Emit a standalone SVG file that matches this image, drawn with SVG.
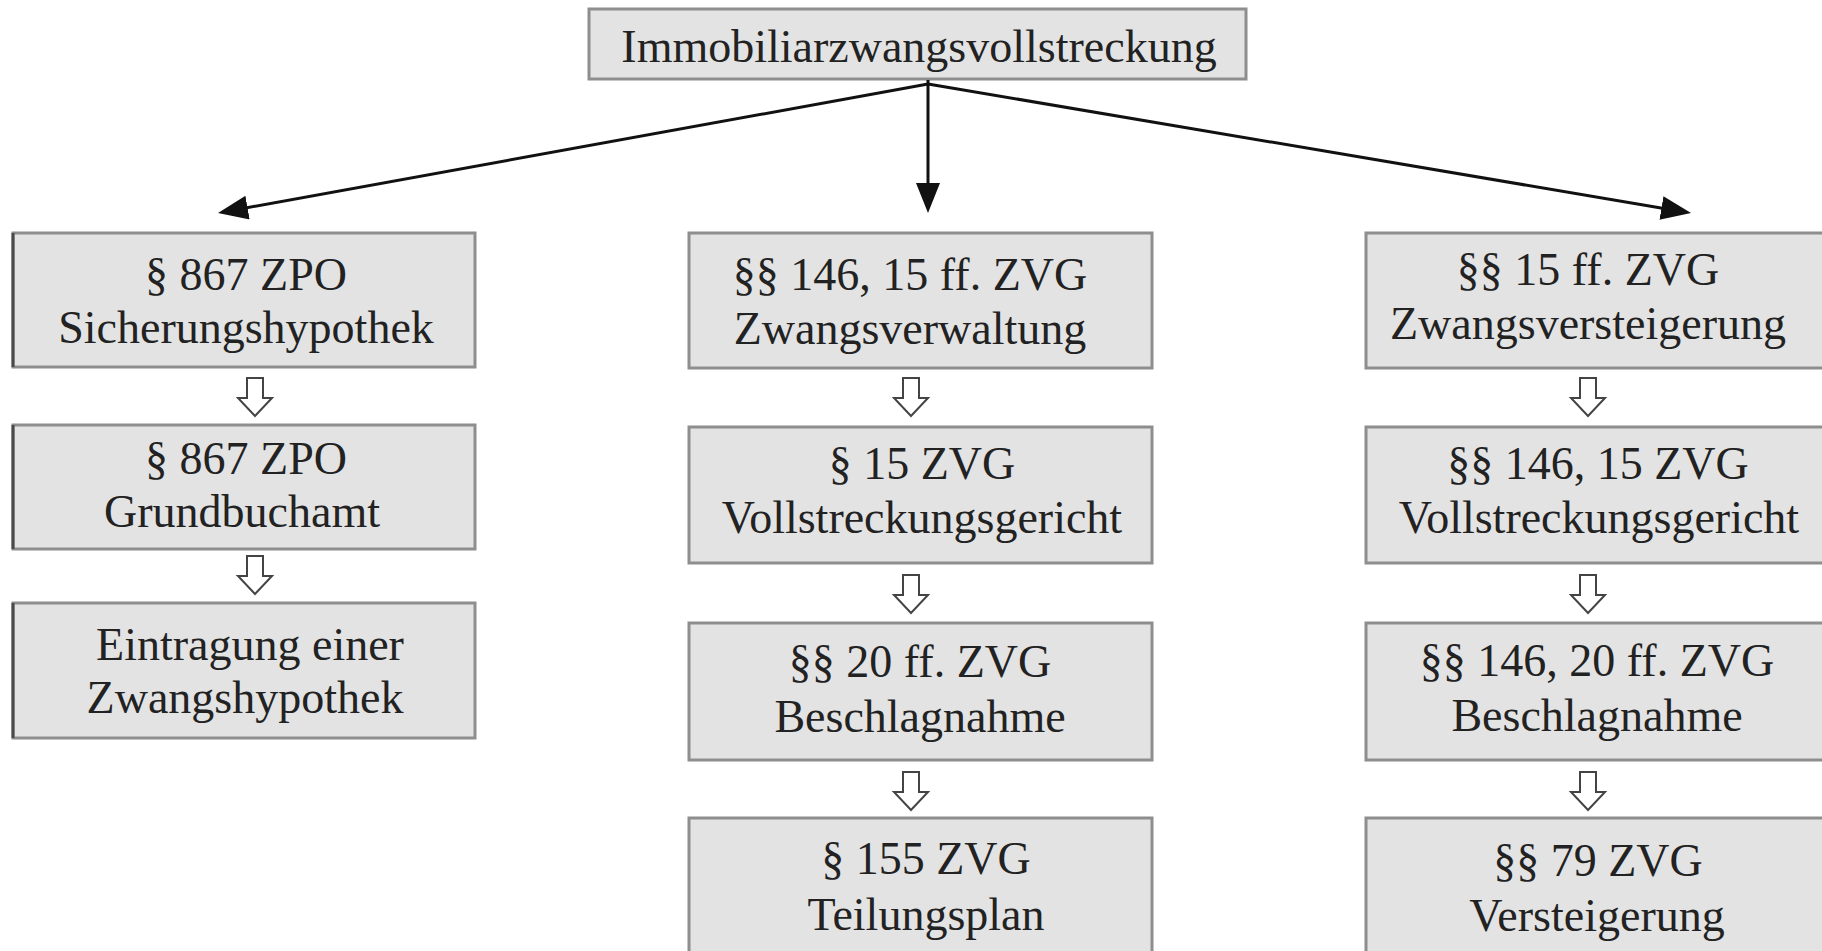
<svg xmlns="http://www.w3.org/2000/svg" xmlns:xlink="http://www.w3.org/1999/xlink" width="1822" height="951" viewBox="0 0 1822 951">
  <style>
    .box { fill: #e3e3e3; stroke: #8e8e8e; stroke-width: 3; }
    .edge { stroke: #4a4a4a; stroke-width: 3; }
    .t { font-family: "Liberation Serif", "Times New Roman", serif; font-size: 46px; fill: #222; text-anchor: middle; }
    .conn { stroke: #111; stroke-width: 3; fill: none; }
    .hollow { fill: #fff; stroke: #444; stroke-width: 2; stroke-linejoin: miter; }
  </style>
  <defs>
    <marker id="ah" viewBox="0 0 30 24" refX="10" refY="12" markerWidth="30" markerHeight="24" markerUnits="userSpaceOnUse" orient="auto">
      <path d="M0,0 L30,12 L0,24 Z" fill="#111"/>
    </marker>
    <path id="ha" class="hollow" d="M-8,0 H8 V20 H17 L0,38 L-17,20 H-8 Z"/>
  </defs>

  <rect width="1822" height="951" fill="#fff"/>

  <g id="root">
    <rect class="box" x="589" y="9" width="657" height="70"/>
    <text class="t" x="919" y="62">Immobiliarzwangsvollstreckung</text>
  </g>

  <g id="connectors">
    <line class="conn" x1="928" y1="84" x2="237.7" y2="209.4" marker-end="url(#ah)"/>
    <line class="conn" x1="928" y1="80" x2="928" y2="193" marker-end="url(#ah)"/>
    <line class="conn" x1="928" y1="84" x2="1671.3" y2="209.7" marker-end="url(#ah)"/>
    <use xlink:href="#ha" x="255" y="378"/>
    <use xlink:href="#ha" x="255" y="556"/>
    <use xlink:href="#ha" x="911" y="378"/>
    <use xlink:href="#ha" x="911" y="575"/>
    <use xlink:href="#ha" x="911" y="772"/>
    <use xlink:href="#ha" x="1588" y="378"/>
    <use xlink:href="#ha" x="1588" y="575"/>
    <use xlink:href="#ha" x="1588" y="772"/>
  </g>

  <!-- left column -->
  <g id="l1">
    <rect class="box" x="13" y="233" width="462" height="134"/>
    <line class="edge" x1="13" y1="233" x2="13" y2="367"/>
    <text class="t" x="246" y="290">§ 867 ZPO</text>
    <text class="t" x="246" y="343">Sicherungshypothek</text>
  </g>
  <g id="l2">
    <rect class="box" x="13" y="425" width="462" height="124"/>
    <line class="edge" x1="13" y1="425" x2="13" y2="549"/>
    <text class="t" x="246" y="474">§ 867 ZPO</text>
    <text class="t" x="242" y="527">Grundbuchamt</text>
  </g>
  <g id="l3">
    <rect class="box" x="13" y="603" width="462" height="135"/>
    <line class="edge" x1="13" y1="603" x2="13" y2="738"/>
    <text class="t" x="250" y="660">Eintragung einer</text>
    <text class="t" x="245" y="713">Zwangshypothek</text>
  </g>

  <!-- middle column -->
  <g id="m1">
    <rect class="box" x="689" y="233" width="463" height="135"/>
    <text class="t" x="910" y="290">§§ 146, 15 ff. ZVG</text>
    <text class="t" x="910" y="344">Zwangsverwaltung</text>
  </g>
  <g id="m2">
    <rect class="box" x="689" y="427" width="463" height="136"/>
    <text class="t" x="922" y="479">§ 15 ZVG</text>
    <text class="t" x="922" y="533">Vollstreckungsgericht</text>
  </g>
  <g id="m3">
    <rect class="box" x="689" y="623" width="463" height="137"/>
    <text class="t" x="920" y="677">§§ 20 ff. ZVG</text>
    <text class="t" x="920" y="732">Beschlagnahme</text>
  </g>
  <g id="m4">
    <rect class="box" x="689" y="818" width="463" height="160"/>
    <text class="t" x="926" y="874">§ 155 ZVG</text>
    <text class="t" x="926" y="930">Teilungsplan</text>
  </g>

  <!-- right column -->
  <g id="r1">
    <rect class="box" x="1366" y="233" width="470" height="135"/>
    <text class="t" x="1588" y="285">§§ 15 ff. ZVG</text>
    <text class="t" x="1588" y="339">Zwangsversteigerung</text>
  </g>
  <g id="r2">
    <rect class="box" x="1366" y="427" width="470" height="136"/>
    <text class="t" x="1598" y="479">§§ 146, 15 ZVG</text>
    <text class="t" x="1599" y="533">Vollstreckungsgericht</text>
  </g>
  <g id="r3">
    <rect class="box" x="1366" y="623" width="470" height="137"/>
    <text class="t" x="1597" y="676">§§ 146, 20 ff. ZVG</text>
    <text class="t" x="1597" y="731">Beschlagnahme</text>
  </g>
  <g id="r4">
    <rect class="box" x="1366" y="818" width="470" height="160"/>
    <text class="t" x="1598" y="876">§§ 79 ZVG</text>
    <text class="t" x="1597" y="931">Versteigerung</text>
  </g>
</svg>
